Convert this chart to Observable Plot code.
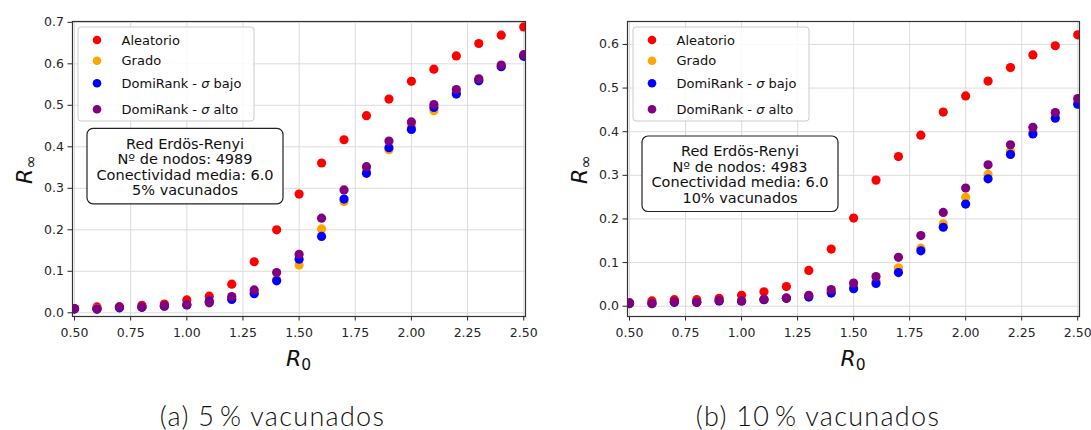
<!DOCTYPE html>
<html><head><meta charset="utf-8">
<script src="https://cdn.jsdelivr.net/npm/d3@7"></script>
<script src="https://cdn.jsdelivr.net/npm/@observablehq/plot@0.6"></script>
<style>
body{margin:0;background:#fff;}
#wrap{position:relative;width:1091px;height:430px;background:#fff;}
.panel{position:absolute;top:0;}
.caption{position:absolute;top:403px;height:26px;line-height:26px;font-family:Lato,"Open Sans",sans-serif;font-weight:300;font-size:27px;letter-spacing:1.3px;color:#111;text-align:center;white-space:pre;}
</style></head><body><div id="wrap"></div>
<script>
// ---- data ----
const r0 = [0.5,0.6,0.7,0.8,0.9,1.0,1.1,1.2,1.3,1.4,1.5,1.6,1.7,1.8,1.9,2.0,2.1,2.2,2.3,2.4,2.5];
const seriesNames = ["Aleatorio","Grado","DomiRank - σ bajo","DomiRank - σ alto"];
const seriesColors = ["#ff0000","#ffa500","#0000ff","#800080"];

// Panel (a): 5% vacunados
const aleatorio5 = [0.010,0.014,0.014,0.018,0.021,0.031,0.040,0.069,0.123,0.200,0.286,0.361,0.417,0.475,0.515,0.558,0.587,0.619,0.649,0.669,0.689];
const grado5     = [0.010,0.010,0.012,0.013,0.016,0.019,0.025,0.034,0.048,0.080,0.115,0.202,0.268,0.342,0.393,0.450,0.487,0.531,0.561,0.595,0.620];
const domiBajo5  = [0.009,0.009,0.012,0.013,0.016,0.019,0.028,0.032,0.046,0.077,0.129,0.184,0.274,0.336,0.398,0.442,0.495,0.527,0.559,0.593,0.618];
const domiAlto5  = [0.010,0.009,0.014,0.014,0.017,0.020,0.024,0.039,0.055,0.097,0.141,0.228,0.296,0.352,0.414,0.460,0.502,0.538,0.564,0.597,0.622];

// Panel (b): 10% vacunados
const aleatorio10 = [0.008,0.012,0.015,0.015,0.018,0.025,0.033,0.045,0.082,0.131,0.202,0.289,0.343,0.392,0.445,0.482,0.516,0.547,0.576,0.597,0.622];
const grado10     = [0.006,0.006,0.009,0.009,0.012,0.012,0.015,0.018,0.023,0.033,0.045,0.058,0.088,0.133,0.189,0.250,0.302,0.355,0.402,0.438,0.470];
const domiBajo10  = [0.006,0.006,0.009,0.009,0.012,0.012,0.015,0.018,0.021,0.030,0.040,0.052,0.077,0.127,0.181,0.234,0.292,0.348,0.395,0.431,0.463];
const domiAlto10  = [0.007,0.006,0.010,0.009,0.013,0.012,0.016,0.019,0.025,0.038,0.053,0.068,0.112,0.162,0.215,0.271,0.324,0.370,0.410,0.444,0.476];

const xTicks = [0.50,0.75,1.00,1.25,1.50,1.75,2.00,2.25,2.50];
const yTicks5 = [0.0,0.1,0.2,0.3,0.4,0.5,0.6,0.7];
const yTicks10 = [0.0,0.1,0.2,0.3,0.4,0.5,0.6];

const boxLines5 = ["Red Erdös-Renyi","Nº de nodos: 4989","Conectividad media: 6.0","5% vacunados"];
const boxLines10 = ["Red Erdös-Renyi","Nº de nodos: 4983","Conectividad media: 6.0","10% vacunados"];
const captions = ["(a) 5\u2009% vacunados","(b) 10\u2009% vacunados"];

// ---- drawing ----
const wrap = document.getElementById("wrap");
const H = 380, MT = 21, MB = 64;
const xDomain = [0.491, 2.508];

function panel({values, yDomain, yTicks, width, marginLeft, marginRight, left, boxTop, boxLines}) {
  const rows = seriesNames.flatMap((s, i) => r0.map((x, j) => ({x, y: values[i][j], s})));
  const svg = Plot.plot({
    width, height: H, marginLeft, marginRight, marginTop: MT, marginBottom: MB,
    style: {fontFamily: "'DejaVu Sans', sans-serif", fontSize: "12.5px", color: "#262626", background: "white"},
    x: {domain: xDomain},
    y: {domain: yDomain},
    color: {domain: seriesNames, range: seriesColors},
    marks: [
      Plot.gridX(xTicks, {stroke: "#dcdcdc", strokeOpacity: 1}),
      Plot.gridY(yTicks, {stroke: "#dcdcdc", strokeOpacity: 1}),
      Plot.dot(rows, {x: "x", y: "y", fill: "s", r: 4.6, clip: true}),
      Plot.axisX(xTicks, {tickFormat: d3.format(".2f"), tickSize: 4.5, tickPadding: 7, label: null}),
      Plot.axisY(yTicks, {tickFormat: d3.format(".1f"), tickSize: 4.5, tickPadding: 4, label: null}),
      Plot.frame({stroke: "#333", strokeWidth: 1.2})
    ]
  });
  const s = d3.select(svg);
  const ml = marginLeft, mr = width - marginRight;
  // x label R0
  const xl = s.append("text").attr("x", (ml + mr) / 2).attr("y", 366).attr("text-anchor", "middle")
    .attr("font-family", "'DejaVu Sans', sans-serif").attr("font-size", 22).attr("fill", "#111");
  xl.append("tspan").attr("font-style", "italic").text("R");
  xl.append("tspan").attr("font-size", 15.5).attr("dy", 4).text("0");
  // y label R∞
  const yl = s.append("text").attr("transform", `translate(${ml - 40},${170}) rotate(-90)`).attr("text-anchor", "middle")
    .attr("font-family", "'DejaVu Sans', sans-serif").attr("font-size", 22).attr("fill", "#111");
  yl.append("tspan").attr("font-style", "italic").text("R");
  yl.append("tspan").attr("font-size", 15.5).attr("dy", 4).text("∞");
  // legend
  const lg = s.append("g").attr("font-family", "'DejaVu Sans', sans-serif").attr("font-size", 13).attr("fill", "#111")
    .attr("text-anchor", "start");
  lg.append("rect").attr("x", ml + 6).attr("y", 27).attr("width", 176).attr("height", 94).attr("rx", 3)
    .attr("fill", "white").attr("fill-opacity", 0.85).attr("stroke", "#cccccc");
  const rowOff = [13, 33.7, 56.3, 82.3];
  seriesNames.forEach((name, i) => {
    const cy = 27 + rowOff[i];
    lg.append("circle").attr("cx", ml + 25).attr("cy", cy).attr("r", 4.3).attr("fill", seriesColors[i]);
    const t = lg.append("text").attr("x", ml + 49.5).attr("y", cy).attr("dy", "0.36em").attr("text-anchor", "start");
    const parts = name.split("σ");
    parts.forEach((p, k) => {
      if (k > 0) t.append("tspan").attr("font-style", "italic").text("σ");
      t.append("tspan").text(p);
    });
  });
  // annotation box
  const bx = s.append("g").attr("font-family", "'DejaVu Sans', sans-serif").attr("font-size", 14.5).attr("fill", "#111");
  bx.append("rect").attr("x", ml + 15).attr("y", boxTop).attr("width", 196).attr("height", 75.5).attr("rx", 6)
    .attr("fill", "white").attr("stroke", "#222").attr("stroke-width", 1.2);
  boxLines.forEach((line, i) => {
    bx.append("text").attr("x", ml + 15 + 98).attr("y", boxTop + 20.2 + i * 15.6).attr("text-anchor", "middle").text(line);
  });
  const div = document.createElement("div");
  div.className = "panel";
  div.style.left = left + "px";
  div.appendChild(svg);
  wrap.appendChild(div);
}

panel({values: [aleatorio5, grado5, domiBajo5, domiAlto5], yDomain: [-0.009, 0.702], yTicks: yTicks5,
  width: 545, marginLeft: 72, marginRight: 20, left: 0, boxTop: 128.3, boxLines: boxLines5});
panel({values: [aleatorio10, grado10, domiBajo10, domiAlto10], yDomain: [-0.0236, 0.6526], yTicks: yTicks10,
  width: 546, marginLeft: 82, marginRight: 12, left: 545, boxTop: 136, boxLines: boxLines10});

[[0, 545], [545, 546]].forEach(([l, w], i) => {
  const c = document.createElement("div");
  c.className = "caption";
  c.style.left = l + "px";
  c.style.width = w + "px";
  c.textContent = captions[i];
  wrap.appendChild(c);
});
</script></body></html>
